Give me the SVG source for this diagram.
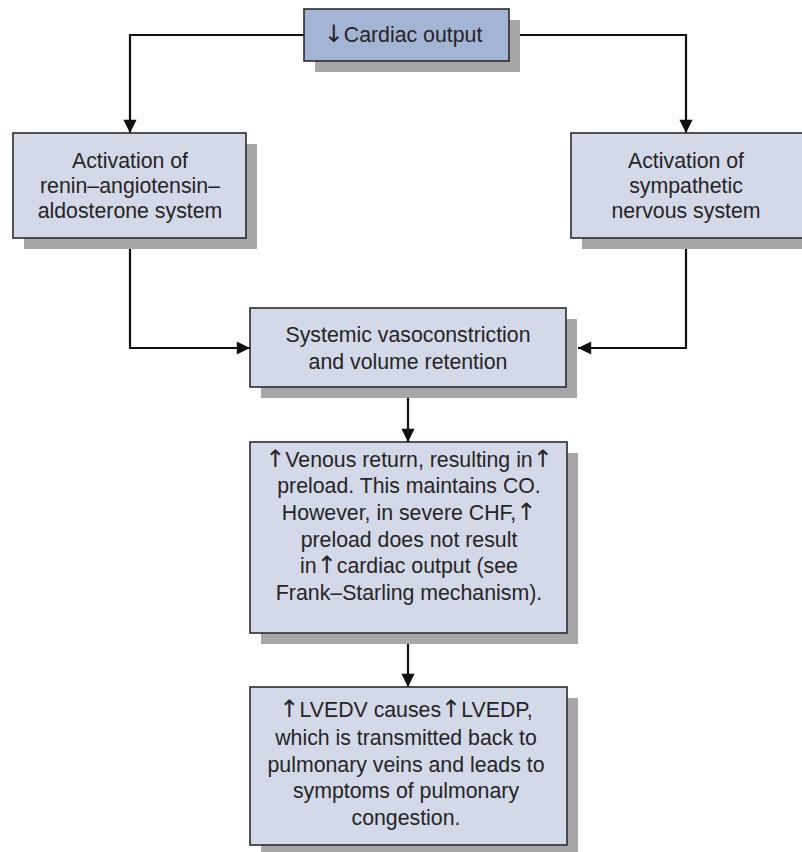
<svg xmlns="http://www.w3.org/2000/svg" width="802" height="852" viewBox="0 0 802 852">
<defs>
<style>
.shadow{fill:#a7a7a9}
.box{fill:#d3d9e8;stroke:#2b2b2e;stroke-width:1.6}
.top{fill:#a3b5d5}
.t{font-family:"Liberation Sans",Arial,sans-serif;font-size:21.3px;fill:#262426;text-anchor:middle}
.ar{font-family:"DejaVu Sans",sans-serif;font-size:24px}
.c{fill:none;stroke:#111;stroke-width:2.2}
</style>
<marker id="ah" viewBox="0 0 10 10" refX="10" refY="5" markerWidth="6.5" markerHeight="6" orient="auto" markerUnits="strokeWidth">
<path d="M0,0 L10,5 L0,10 z" fill="#111"/>
</marker>
</defs>
<rect width="802" height="852" fill="#fff"/>
<g id="connectors">
<path class="c" d="M304,35 H130 V133" marker-end="url(#ah)"/>
<path class="c" d="M520,35 H686 V133" marker-end="url(#ah)"/>
<path class="c" d="M130,248 V348 H250" marker-end="url(#ah)"/>
<path class="c" d="M686,248 V348 H578" marker-end="url(#ah)"/>
<path class="c" d="M408,397 V442" marker-end="url(#ah)"/>
<path class="c" d="M408,643 V687" marker-end="url(#ah)"/>
</g>
<g id="cardiac-output">
<rect class="shadow" x="315" y="20" width="205" height="52"/>
<rect class="box top" x="304" y="9" width="205" height="52"/>
<text class="t" x="403" y="42"><tspan class="ar">↓</tspan>Cardiac output</text>
</g>
<g id="raas">
<rect class="shadow" x="24" y="144" width="233" height="105"/>
<rect class="box" x="13" y="133" width="233" height="105"/>
<text class="t" x="130" y="168">Activation of</text>
<text class="t" x="130" y="193">renin–angiotensin–</text>
<text class="t" x="130" y="218">aldosterone system</text>
</g>
<g id="sns">
<rect class="shadow" x="582" y="144" width="233" height="105"/>
<rect class="box" x="571" y="133" width="233" height="105"/>
<text class="t" x="686" y="168">Activation of</text>
<text class="t" x="686" y="193">sympathetic</text>
<text class="t" x="686" y="218">nervous system</text>
</g>
<g id="vasoconstriction">
<rect class="shadow" x="261" y="319" width="316" height="79"/>
<rect class="box" x="250" y="308" width="316" height="79"/>
<text class="t" x="408" y="342">Systemic vasoconstriction</text>
<text class="t" x="408" y="369">and volume retention</text>
</g>
<g id="venous-return">
<rect class="shadow" x="261" y="453" width="317" height="191"/>
<rect class="box" x="250" y="442" width="317" height="191"/>
<text class="t" x="409" y="467"><tspan class="ar">↑</tspan>Venous return, resulting in<tspan class="ar">↑</tspan></text>
<text class="t" x="409" y="493">preload. This maintains CO.</text>
<text class="t" x="409" y="520">However, in severe CHF,<tspan class="ar">↑</tspan></text>
<text class="t" x="409" y="547">preload does not result</text>
<text class="t" x="409" y="573">in<tspan class="ar">↑</tspan>cardiac output (see</text>
<text class="t" x="409" y="600">Frank–Starling mechanism).</text>
</g>
<g id="lvedv">
<rect class="shadow" x="261" y="698" width="317" height="158"/>
<rect class="box" x="250" y="687" width="317" height="158"/>
<text class="t" x="406" y="717"><tspan class="ar">↑</tspan>LVEDV causes<tspan class="ar">↑</tspan>LVEDP,</text>
<text class="t" x="406" y="745">which is transmitted back to</text>
<text class="t" x="406" y="772">pulmonary veins and leads to</text>
<text class="t" x="406" y="798">symptoms of pulmonary</text>
<text class="t" x="406" y="825">congestion.</text>
</g>
</svg>
